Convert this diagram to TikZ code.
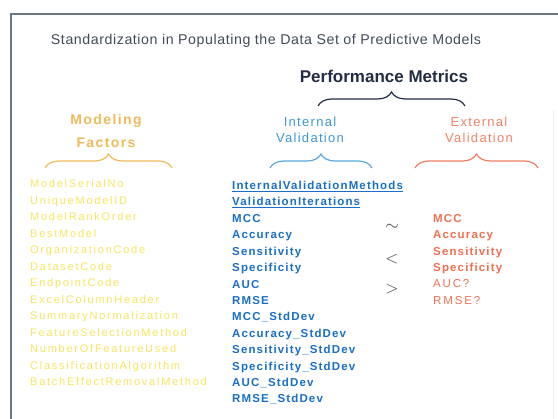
\documentclass[tikz,border=0pt]{standalone}
\usepackage{fontspec}
\setmainfont{Liberation Sans}
\newfontfamily\wideface[LetterSpace=16]{Liberation Sans}
\newfontfamily\headface[LetterSpace=10]{Liberation Sans}
\newfontfamily\midface[LetterSpace=4]{Liberation Sans}
\newfontfamily\listface[LetterSpace=10]{Liberation Sans}
\usetikzlibrary{decorations.pathreplacing,positioning}
\definecolor{framegray}{RGB}{105,120,130}
\definecolor{titlegray}{RGB}{65,75,88}
\definecolor{metricnavy}{RGB}{35,45,70}
\definecolor{factorgold}{RGB}{240,185,90}
\definecolor{factorpale}{RGB}{248,228,95}
\definecolor{internblue}{RGB}{60,150,210}
\definecolor{listblue}{RGB}{25,110,200}
\definecolor{externred}{RGB}{240,130,100}
\definecolor{listred}{RGB}{240,110,80}
\tikzset{
  head/.style={align=center, inner sep=0pt, font=\headface\fontsize{13}{16}\selectfont},
  factor/.style={anchor=west, inner sep=0pt, text height=8pt, text depth=2pt, text=factorpale, font=\wideface\fontsize{11}{12}\selectfont},
  intmetric/.style={anchor=west, inner sep=0pt, text height=8pt, text depth=2pt, text=listblue, font=\listface\bfseries\fontsize{11.5}{12}\selectfont},
  extmetric/.style={anchor=west, inner sep=0pt, text height=8pt, text depth=2pt, text=listred, font=\listface\bfseries\fontsize{11.5}{12}\selectfont},
  relsign/.style={inner sep=0pt, text=black!75, font=\fontsize{18}{18}\selectfont},
  bracket/.style={decorate, decoration={brace, amplitude=14pt}, line width=1.2pt},
}
\begin{document}
\begin{tikzpicture}[x=1pt,y=-1pt]
\useasboundingbox (0,0) rectangle (558,419);
% frame
\draw[framegray, line width=1.3pt] (558,14) -- (11,14) -- (11,419);
\draw[black!8, line width=0.8pt] (553,110) -- (553,419);

\node[inner sep=0pt, text=titlegray, font=\midface\fontsize{14.2}{16}\selectfont] (title) at (266,41)
  {Standardization in Populating the Data Set of Predictive Models};
\node[inner sep=0pt, text=metricnavy, font=\bfseries\fontsize{17}{18}\selectfont] (perf) at (384,76) {Performance Metrics};

\node[head, text=factorgold, font=\headface\bfseries\fontsize{14}{23}\selectfont] (model) at (106,131) {Modeling\\Factors};
\node[head, text=internblue] (intval) at (310,130) {Internal\\Validation};
\node[head, text=externred] (extval) at (479,130) {External\\Validation};

% braces
\draw[bracket, metricnavy] (318,106) -- (465,106);
\draw[bracket, factorgold] (45,168) -- (172,168);
\draw[bracket, internblue!85] (270,168) -- (372,168);
\draw[bracket, listred!90] (415,168) -- (538,168);

% modeling factors
\foreach \fname [count=\i from 0] in {ModelSerialNo,UniqueModelID,ModelRankOrder,BestModel,OrganizationCode,DatasetCode,EndpointCode,ExcelColumnHeader,SummaryNormalization,FeatureSelectionMethod,NumberOfFeatureUsed,ClassificationAlgorithm,BatchEffectRemovalMethod}
  \node[factor] (f\i) at (30,{185+16.5*\i}) {\fname};

% internal validation
\node[intmetric] (ivm) at (232,187) {\underline{InternalValidationMethods}};
\node[intmetric] (ivi) at (232,203) {\underline{ValidationIterations}};
\foreach \mname [count=\i from 0] in {MCC,Accuracy,Sensitivity,Specificity,AUC,RMSE,MCC\_StdDev,Accuracy\_StdDev,Sensitivity\_StdDev,Specificity\_StdDev,AUC\_StdDev,RMSE\_StdDev}
  \node[intmetric] (m\i) at (232,{219.5+16.4*\i}) {\mname};

% external validation
\foreach \ename [count=\i from 0] in {MCC,Accuracy,Sensitivity,Specificity}
  \node[extmetric] (e\i) at (433,{219.5+16.4*\i}) {\ename};
\node[extmetric, font=\wideface\fontsize{11.5}{12}\selectfont] (e4) at (433,285) {AUC?};
\node[extmetric, font=\wideface\fontsize{11.5}{12}\selectfont] (e5) at (433,301.5) {RMSE?};

\node[relsign] (sim) at (392,227) {$\sim$};
\node[relsign] (lt) at (392,259) {$<$};
\node[relsign] (gt) at (392,289) {$>$};
\end{tikzpicture}
\end{document}
